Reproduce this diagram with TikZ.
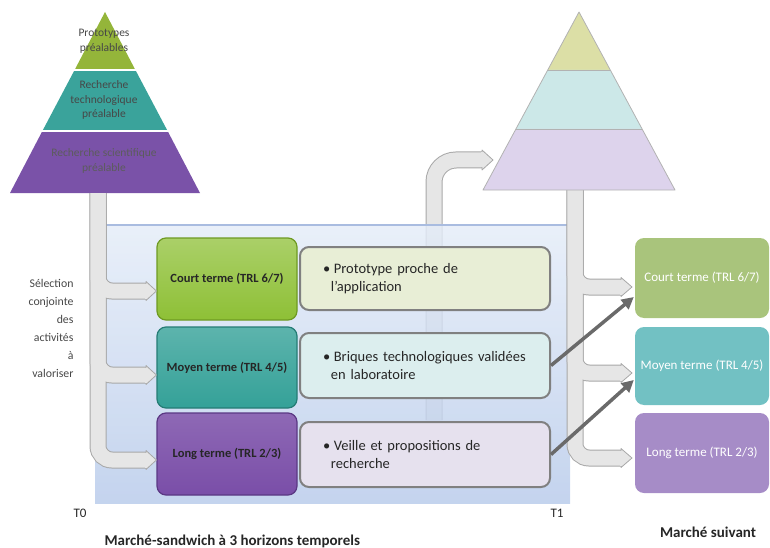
\documentclass[tikz,border=0pt]{standalone}
\usepackage{fontspec}
\setmainfont{Carlito}
\usetikzlibrary{arrows.meta,calc}
\definecolor{pyrG}{HTML}{94B53A}
\definecolor{pyrT}{HTML}{3AA39B}
\definecolor{pyrP}{HTML}{7A52A8}
\definecolor{rpyrG}{HTML}{DCDFA6}
\definecolor{rpyrT}{HTML}{CCE8E8}
\definecolor{rpyrP}{HTML}{DDD3EC}
\definecolor{boxG}{HTML}{8EC036}
\definecolor{boxGd}{HTML}{6E9A22}
\definecolor{boxT}{HTML}{34A198}
\definecolor{boxTd}{HTML}{257C75}
\definecolor{boxP}{HTML}{7A4EA8}
\definecolor{boxPd}{HTML}{5B3884}
\definecolor{txtG}{HTML}{E8EED6}
\definecolor{txtT}{HTML}{DCEEEE}
\definecolor{txtP}{HTML}{E6E1EE}
\definecolor{nxtG}{HTML}{A9C47C}
\definecolor{nxtT}{HTML}{72C1C3}
\definecolor{nxtP}{HTML}{A68CC7}
\definecolor{bgTop}{HTML}{E4ECF8}
\definecolor{bgBot}{HTML}{B7CAEA}
\definecolor{bgLine}{HTML}{A9BCE0}
\definecolor{barOut}{HTML}{A8A8A8}
\definecolor{barIn}{HTML}{E6E6E6}
\definecolor{darkarrow}{HTML}{6A6A6A}
\definecolor{ink}{HTML}{262626}
\begin{document}
\begin{tikzpicture}[x=1pt,y=-1pt,
  barouter/.style={draw=barOut,line width=17pt},
  barinner/.style={draw=barIn,line width=15pt},
  tiphead/.style={fill=barIn,draw=barOut,line width=0.8pt,line join=round},
  termbox/.style={rounded corners=9pt,minimum width=140pt,line width=1.2pt,inner xsep=2pt,
    font=\fontsize{12.5}{14}\selectfont\bfseries,text=ink},
  descbox/.style={rounded corners=9pt,minimum width=250pt,draw=black!50,line width=2pt,
    font=\fontsize{14.5}{18}\selectfont,text=ink,align=left,text width=204pt,inner xsep=0pt},
  nextbox/.style={rounded corners=9pt,minimum width=134pt,text=white,inner xsep=2pt,
    font=\fontsize{13}{15}\selectfont},
  pyrtext/.style={font=\fontsize{11.5}{14.5}\selectfont,text=ink!85,align=center},
  darrow/.style={draw=darkarrow,line width=3.5pt,-{Triangle[length=12pt,width=12pt]}},
  label/.style={font=\fontsize{15}{17}\selectfont\bfseries,text=ink},
]
\useasboundingbox (0,0) rectangle (770,548);

% ---------- middle gray bar (behind the zone) ----------
\coordinate (midBot) at (434,420);
\coordinate (midEnd) at (482,160);
\coordinate (midTip) at (493,160);
\draw[barouter,rounded corners=22pt] (midBot) |- (midEnd);
\draw[barinner,rounded corners=22pt] (midBot) |- (midEnd);
\filldraw[tiphead] ($(midEnd)+(0,-10)$) -- (midTip) -- ($(midEnd)+(0,10)$) -- cycle;
\fill[barIn] ($(midEnd)+(-1,-7.5)$) rectangle ($(midEnd)+(0.5,7.5)$);

% ---------- blue zone ----------
\node[minimum width=475pt,minimum height=278pt,inner sep=0pt,
  top color=bgTop,bottom color=bgBot,fill opacity=0.82,draw=none] (zone) at (332.5,364) {};
\draw[bgLine,line width=1.5pt] (zone.north west) -- (zone.north east);

% ---------- left pyramid ----------
\fill[pyrG] (105,12) -- (74.6,70) -- (135.4,70) -- cycle;
\fill[pyrT] (74.6,70) -- (135.4,70) -- (167.6,131) -- (42.4,131) -- cycle;
\fill[pyrP] (42.4,131) -- (167.6,131) -- (200,193) -- (10,193) -- cycle;
\draw[white,line width=2.5pt] (30,70) -- (180,70);
\draw[white,line width=2.5pt] (20,131) -- (190,131);
\node[pyrtext] (p1) at (104,41) {Prototypes\\préalables};
\node[pyrtext] (p2) at (104,100) {Recherche\\technologique\\préalable};
\node[pyrtext,text=ink!75] (p3) at (104,161) {Recherche scientifique\\préalable};

% ---------- term boxes ----------
\node[termbox,minimum height=82pt,top color=boxG!75!white,bottom color=boxG,draw=boxGd] (cL) at (227,279) {Court terme (TRL 6/7)};
\node[termbox,minimum height=81pt,top color=boxT!80!white,bottom color=boxT,draw=boxTd] (mL) at (227,367.5) {Moyen terme (TRL 4/5)};
\node[termbox,minimum height=82pt,top color=boxP!85!white,bottom color=boxP,draw=boxPd] (lL) at (227,454) {Long terme (TRL 2/3)};

\node[descbox,minimum height=63pt,fill=txtG] (cT) at (425,278.5) {\textbullet\hspace{0.25em}Prototype proche de\\\hspace*{0.55em}l'application};
\node[descbox,minimum height=65pt,fill=txtT] (mT) at (425,365.5) {\textbullet\hspace{0.25em}Briques technologiques validées\\\hspace*{0.55em}en laboratoire};
\node[descbox,minimum height=65pt,fill=txtP] (lT) at (425,454.5) {\textbullet\hspace{0.25em}Veille et propositions de\\\hspace*{0.55em}recherche};

% ---------- left bar with branches ----------
\coordinate (lTop) at (98,193);
\coordinate (lb1) at (146,291);
\coordinate (lb2) at (146,375);
\coordinate (lb3) at (146,460);
\foreach \b in {lb1,lb2,lb3}{\draw[barouter,rounded corners=14pt] (lTop) |- (\b);}
\foreach \b in {lb1,lb2,lb3}{\draw[barinner,rounded corners=14pt] (lTop) |- (\b);}
\foreach \b in {lb1,lb2,lb3}{
  \filldraw[tiphead] ($(\b)+(0,-9.5)$) -- (\b -| cL.west) -- ($(\b)+(0,9.5)$) -- cycle;
  \fill[barIn] ($(\b)+(-1,-7.5)$) rectangle ($(\b)+(0.5,7.5)$);}

% ---------- right bar with branches ----------
\coordinate (rTop) at (575,190);
\coordinate (rb1) at (621,287);
\coordinate (rb2) at (621,373);
\coordinate (rb3) at (621,458);
\node[nextbox,minimum height=80pt,fill=nxtG] (cR) at (702,278) {Court terme (TRL 6/7)};
\node[nextbox,minimum height=78pt,fill=nxtT] (mR) at (702,366) {Moyen terme (TRL 4/5)};
\node[nextbox,minimum height=80pt,fill=nxtP] (lR) at (702,453) {Long terme (TRL 2/3)};
\foreach \b in {rb1,rb2,rb3}{\draw[barouter,rounded corners=14pt] (rTop) |- (\b);}
\foreach \b in {rb1,rb2,rb3}{\draw[barinner,rounded corners=14pt] (rTop) |- (\b);}
\foreach \b in {rb1,rb2,rb3}{
  \filldraw[tiphead] ($(\b)+(0,-9.5)$) -- ($(\b)+(11,0)$) -- ($(\b)+(0,9.5)$) -- cycle;
  \fill[barIn] ($(\b)+(-1,-7.5)$) rectangle ($(\b)+(0.5,7.5)$);}

% ---------- right pyramid ----------
\fill[rpyrG] (579,12) -- (547.7,70) -- (610.3,70) -- cycle;
\fill[rpyrT] (547.7,70) -- (610.3,70) -- (642.1,129) -- (515.9,129) -- cycle;
\fill[rpyrP] (515.9,129) -- (642.1,129) -- (675,190) -- (483,190) -- cycle;
\draw[black!30,line width=0.8pt,line join=round] (579,12) -- (675,190) -- (483,190) -- cycle;
\draw[black!30,line width=0.8pt] (547.7,70) -- (610.3,70) (515.9,129) -- (642.1,129);

% ---------- dark arrows ----------
\draw[darrow] (mT.east) -- ($(cR.west)+(-1,19)$);
\draw[darrow] (lT.east) -- ($(mR.west)+(-1,14)$);

% ---------- labels ----------
\node[align=right,anchor=east,font=\fontsize{11.8}{18}\selectfont,text=black!72] (sel) at (77,328)
  {Sélection\\conjointe\\des\\activités\\à\\valoriser};
\node[font=\fontsize{13}{15}\selectfont,text=ink] (t0) at (80,513) {T0};
\node[font=\fontsize{13}{15}\selectfont,text=ink] (t1) at (557,513) {T1};
\node[label,anchor=west] (ms) at (101,541) {Marché-sandwich à 3 horizons temporels};
\node[label] (mn) at (708,532) {Marché suivant};
\end{tikzpicture}
\end{document}
